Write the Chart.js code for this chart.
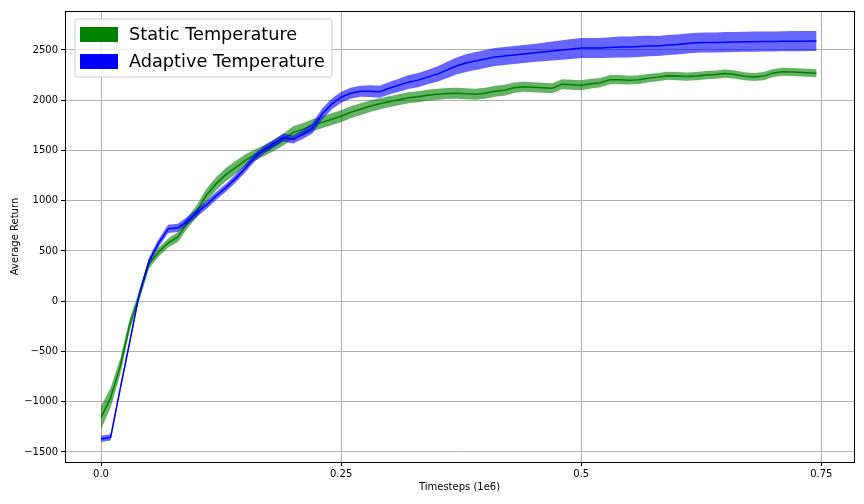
<!DOCTYPE html>
<html>
<head>
<meta charset="utf-8">
<script src="https://cdn.jsdelivr.net/npm/chart.js@4.4.0/dist/chart.umd.min.js"></script>
<style>
  html, body { margin: 0; padding: 0; background: #fff; }
  #wrap { width: 864px; height: 504px; }
</style>
</head>
<body>
<div id="wrap"><canvas id="returnChart" width="864" height="504"></canvas></div>
<script>
// timesteps in millions
const timesteps = [0, 0.01, 0.02, 0.03, 0.04, 0.05, 0.06, 0.07, 0.08, 0.09,
  0.10, 0.11, 0.12, 0.13, 0.14, 0.15, 0.16, 0.17, 0.18, 0.19,
  0.20, 0.21, 0.22, 0.23, 0.24, 0.25, 0.26, 0.27, 0.28, 0.29,
  0.30, 0.31, 0.32, 0.33, 0.34, 0.35, 0.36, 0.37, 0.38, 0.39,
  0.40, 0.41, 0.42, 0.43, 0.44, 0.45, 0.46, 0.47, 0.48, 0.49,
  0.50, 0.51, 0.52, 0.53, 0.54, 0.55, 0.56, 0.57, 0.58, 0.59,
  0.60, 0.61, 0.62, 0.63, 0.64, 0.65, 0.66, 0.67, 0.68, 0.69,
  0.70, 0.71, 0.72, 0.73, 0.74, 0.745];

const staticMean = [-1160, -960, -650, -230, 60, 370, 490, 580, 640, 780,
  900, 1060, 1170, 1260, 1330, 1400, 1455, 1500, 1550, 1610,
  1680, 1710, 1750, 1780, 1810, 1840, 1880, 1910, 1940, 1965,
  1985, 2005, 2025, 2035, 2050, 2060, 2068, 2070, 2065, 2060,
  2070, 2090, 2100, 2125, 2135, 2130, 2125, 2120, 2160, 2155,
  2150, 2165, 2175, 2205, 2205, 2200, 2205, 2220, 2230, 2243,
  2240, 2235, 2240, 2250, 2255, 2265, 2255, 2238, 2232, 2240,
  2272, 2283, 2282, 2275, 2270, 2268];
const staticSpread = [115, 100, 80, 60, 50, 45, 45, 45, 50, 55,
  60, 65, 65, 65, 65, 60, 55, 55, 55, 60,
  60, 60, 60, 60, 60, 60, 60, 60, 58, 56,
  55, 55, 55, 55, 55, 55, 55, 55, 55, 55,
  55, 55, 55, 52, 50, 50, 50, 50, 50, 50,
  50, 48, 46, 45, 45, 44, 43, 42, 42, 40,
  40, 40, 40, 40, 40, 40, 40, 40, 40, 40,
  40, 40, 40, 40, 40, 40];

const adaptiveMean = [-1370, -1355, -870, -400, 80, 400, 580, 720, 730, 800,
  880, 960, 1050, 1130, 1220, 1320, 1430, 1510, 1570, 1630,
  1610, 1660, 1720, 1860, 1960, 2030, 2070, 2090, 2090, 2085,
  2120, 2150, 2180, 2200, 2230, 2260, 2300, 2340, 2370, 2390,
  2410, 2430, 2440, 2450, 2460, 2470, 2480, 2490, 2500, 2510,
  2520, 2520, 2520, 2525, 2530, 2530, 2535, 2540, 2540, 2550,
  2555, 2565, 2572, 2575, 2575, 2578, 2580, 2582, 2583, 2585,
  2585, 2587, 2588, 2588, 2590, 2590];
const adaptiveSpread = [30, 30, 30, 30, 30, 35, 40, 40, 40, 40,
  40, 40, 40, 40, 40, 40, 40, 40, 40, 40,
  40, 45, 50, 55, 55, 55, 55, 55, 58, 60,
  62, 65, 68, 70, 72, 75, 80, 85, 88, 90,
  90, 90, 90, 90, 90, 90, 92, 95, 98, 100,
  100, 100, 100, 102, 104, 105, 104, 102, 100, 100,
  100, 100, 100, 100, 100, 100, 100, 100, 100, 100,
  100, 100, 100, 100, 100, 100];

const xTicks = [0, 0.25, 0.5, 0.75];
const xTickLabels = ["0.0", "0.25", "0.5", "0.75"];
const yTicks = [-1500, -1000, -500, 0, 500, 1000, 1500, 2000, 2500];
const seriesNames = ["Static Temperature", "Adaptive Temperature"];

const FONT = "'DejaVu Sans', sans-serif";

function pts(ys, sign, spread) {
    return timesteps.map((t, i) => ({ x: t, y: ys[i] + (spread ? sign * spread[i] : 0) }));
}

function bandSets(mean, spread, fillColor, order) {
    return [
        { data: pts(mean, 1, spread), borderWidth: 0, pointRadius: 0, fill: "+1",
          backgroundColor: fillColor, tension: 0, order: order },
        { data: pts(mean, -1, spread), borderWidth: 0, pointRadius: 0, fill: false,
          tension: 0, order: order }
    ];
}

// frame round the plot + legend box in the upper left
const framePlugin = {
    id: "frameAndLegend",
    afterDraw(chart) {
        const ctx = chart.ctx;
        const a = chart.chartArea;
        ctx.save();
        ctx.strokeStyle = "#000";
        ctx.lineWidth = 1;
        ctx.strokeRect(Math.round(a.left) + 0.5, Math.round(a.top) + 0.5,
            Math.round(a.right - a.left), Math.round(a.bottom - a.top));

        // legend
        const bx = 75, by = 19, bw = 257, bh = 58, r = 3;
        ctx.beginPath();
        ctx.moveTo(bx + r, by);
        ctx.arcTo(bx + bw, by, bx + bw, by + bh, r);
        ctx.arcTo(bx + bw, by + bh, bx, by + bh, r);
        ctx.arcTo(bx, by + bh, bx, by, r);
        ctx.arcTo(bx, by, bx + bw, by, r);
        ctx.closePath();
        ctx.fillStyle = "rgba(255,255,255,0.8)";
        ctx.fill();
        ctx.strokeStyle = "#cccccc";
        ctx.stroke();

        const colors = ["#008000", "#0000ff"];
        ctx.font = "17.7px " + FONT;
        ctx.textBaseline = "middle";
        ctx.textAlign = "left";
        seriesNames.forEach((name, i) => {
            const y = 27 + i * 27;
            ctx.fillStyle = colors[i];
            ctx.fillRect(80, y, 38, 15);
            ctx.fillStyle = "#000";
            ctx.fillText(name, 129, y + 8);
        });
        ctx.restore();
    }
};

const ctx = document.getElementById("returnChart").getContext("2d");
new Chart(ctx, {
    type: "line",
    data: {
        datasets: [
            ...bandSets(staticMean, staticSpread, "rgba(0,128,0,0.6)", 4),
            { data: pts(staticMean), borderColor: "#008000", borderWidth: 1.5,
              pointRadius: 0, fill: false, tension: 0, order: 3 },
            ...bandSets(adaptiveMean, adaptiveSpread, "rgba(0,0,255,0.6)", 2),
            { data: pts(adaptiveMean), borderColor: "#0000ff", borderWidth: 1.5,
              pointRadius: 0, fill: false, tension: 0, order: 1 }
        ]
    },
    options: {
        responsive: false,
        animation: false,
        layout: { padding: { left: 0, right: 10, top: 11, bottom: 0 } },
        plugins: { legend: { display: false }, tooltip: { enabled: false } },
        scales: {
            x: {
                type: "linear",
                min: -0.0375,
                max: 0.784,
                afterBuildTicks: s => { s.ticks = xTicks.map(v => ({ value: v })); },
                afterFit: s => { s.height = 42; },
                ticks: {
                    color: "#000", font: { family: FONT, size: 10 }, padding: 2,
                    maxRotation: 0,
                    callback: (v, i) => xTickLabels[i]
                },
                grid: { color: "#b0b0b0", lineWidth: 1, tickLength: 4, tickColor: "#000" },
                border: { display: false },
                title: { display: true, text: "Timesteps (1e6)", color: "#000",
                         font: { family: FONT, size: 10 }, padding: 11 }
            },
            y: {
                min: -1600,
                max: 2888,
                afterBuildTicks: s => { s.ticks = yTicks.map(v => ({ value: v })); },
                afterFit: s => { s.width = 65; },
                ticks: {
                    color: "#000", font: { family: FONT, size: 10 }, padding: 3,
                    callback: v => String(v).replace("-", "\u2212")
                },
                grid: { color: "#b0b0b0", lineWidth: 1, tickLength: 4, tickColor: "#000" },
                border: { display: false },
                title: { display: true, text: "Average Return", color: "#000",
                         font: { family: FONT, size: 10 }, padding: 9 }
            }
        }
    },
    plugins: [framePlugin]
});
</script>
</body>
</html>
